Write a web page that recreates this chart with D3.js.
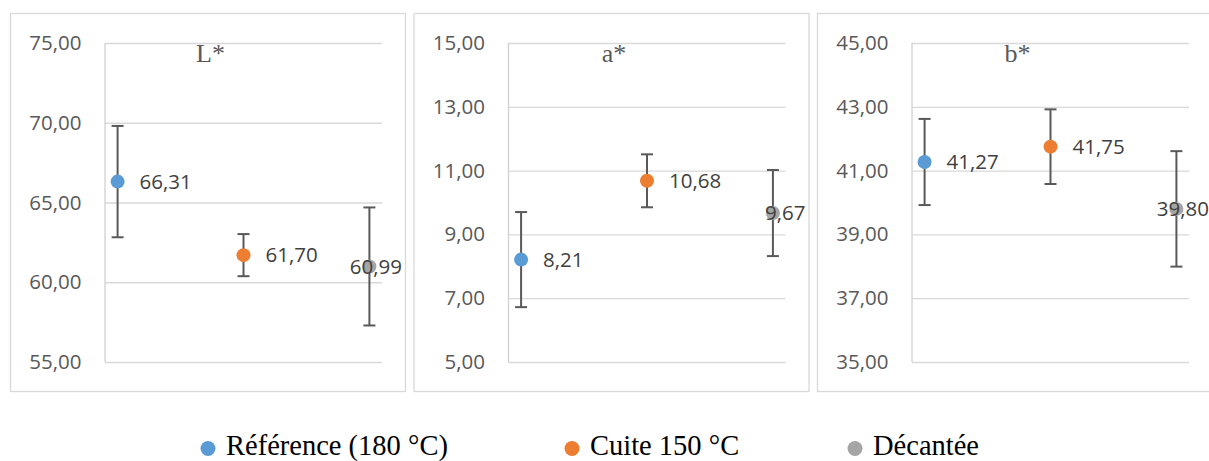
<!DOCTYPE html>
<html>
<head>
<meta charset="utf-8">
<script src="https://cdn.jsdelivr.net/npm/d3@7"></script>
<style>
  html, body { margin: 0; padding: 0; background: #fff; }
  svg { display: block; }
</style>
</head>
<body>
<svg id="chart" width="1209" height="461"></svg>
<script>
// ---- data ----
const categories = ["Référence (180 °C)", "Cuite 150 °C", "Décantée"];
const colors = ["#5B9BD5", "#ED7D31", "#A5A5A5"];

const panelTitles = ["L*", "a*", "b*"];

const L_values = [66.31, 61.70, 60.99];
const L_errors = [3.49, 1.32, 3.70];
const L_ticks = [55, 60, 65, 70, 75];

const a_values = [8.21, 10.68, 9.67];
const a_errors = [1.49, 0.83, 1.35];
const a_ticks = [5, 7, 9, 11, 13, 15];

const b_values = [41.27, 41.75, 39.80];
const b_errors = [1.35, 1.17, 1.81];
const b_ticks = [35, 37, 39, 41, 43, 45];

const panels = [
  { title: panelTitles[0], values: L_values, errors: L_errors, ticks: L_ticks },
  { title: panelTitles[1], values: a_values, errors: a_errors, ticks: a_ticks },
  { title: panelTitles[2], values: b_values, errors: b_errors, ticks: b_ticks }
];

// ---- layout ----
const svg = d3.select("#chart");
const fmt = v => d3.format(".2f")(v).replace(".", ",");
const frameW = 395, frameTop = 13, frameBottom = 391, panelStep = 403.5;
const axisOffset = 95, plotW = 277, plotTop = 43, plotBottom = 362;

panels.forEach((p, i) => {
  const fx = 10 + i * panelStep;
  const ax = fx + axisOffset;
  const g = svg.append("g");

  g.append("rect")
    .attr("x", fx + 0.5).attr("y", frameTop + 0.5)
    .attr("width", frameW).attr("height", frameBottom - frameTop)
    .attr("fill", "#fff").attr("stroke", "#D9D9D9").attr("stroke-width", 1.3);

  const x = d3.scaleLinear().domain([0.9, 3.1]).range([ax, ax + plotW]);
  const y = d3.scaleLinear().domain(d3.extent(p.ticks)).range([plotBottom, plotTop]);

  // gridlines + tick labels via axis
  const yAxis = d3.axisLeft(y).tickValues(p.ticks).tickFormat(fmt)
    .tickSize(-plotW).tickPadding(23.5);
  const ag = g.append("g").attr("transform", `translate(${ax},0)`).call(yAxis);
  ag.select(".domain").remove();
  ag.selectAll(".tick line").attr("stroke", "#D9D9D9").attr("stroke-width", 1.3);
  ag.selectAll(".tick text")
    .attr("fill", "#595959")
    .style("font-family", "'Open Sans', sans-serif")
    .style("font-size", "20.5px");

  // vertical axis line
  g.append("line")
    .attr("x1", ax).attr("x2", ax)
    .attr("y1", plotTop).attr("y2", plotBottom)
    .attr("stroke", "#D0D0D0").attr("stroke-width", 1.3);

  // title
  g.append("text")
    .attr("x", ax + 105.5).attr("y", 61.5)
    .attr("text-anchor", "middle")
    .attr("fill", "#595959")
    .style("font-family", "'Liberation Serif', 'Times New Roman', serif")
    .style("font-size", "26px")
    .text(p.title);

  const data = p.values.map((v, k) => ({ k, v, e: p.errors[k] }));

  // error bars
  const eb = g.selectAll(".eb").data(data).enter().append("g");
  eb.append("line")
    .attr("x1", d => x(d.k + 1)).attr("x2", d => x(d.k + 1))
    .attr("y1", d => y(d.v + d.e)).attr("y2", d => y(d.v - d.e))
    .attr("stroke", "#595959").attr("stroke-width", 2);
  [1, -1].forEach(s => {
    eb.append("line")
      .attr("x1", d => x(d.k + 1) - 6).attr("x2", d => x(d.k + 1) + 6)
      .attr("y1", d => y(d.v + s * d.e)).attr("y2", d => y(d.v + s * d.e))
      .attr("stroke", "#595959").attr("stroke-width", 2);
  });

  // markers
  g.selectAll(".pt").data(data).enter().append("circle")
    .attr("cx", d => x(d.k + 1)).attr("cy", d => y(d.v))
    .attr("r", 7).attr("fill", d => colors[d.k]);

  // labels
  const frameRight = fx + frameW;
  g.selectAll(".lbl").data(data).enter().append("text")
    .attr("y", d => y(d.v))
    .attr("dy", "0.35em")
    .attr("fill", "#404040")
    .style("font-family", "'Open Sans', sans-serif")
    .style("font-size", "20.5px")
    .text(d => fmt(d.v))
    .attr("x", function (d) {
      const w = this.getComputedTextLength();
      return Math.min(x(d.k + 1) + 22, frameRight - 3 - w);
    });
});

// ---- legend ----
const legendX = [208, 572, 855];
const lg = svg.append("g");
categories.forEach((c, k) => {
  lg.append("circle")
    .attr("cx", legendX[k]).attr("cy", 448.5)
    .attr("r", 7.5).attr("fill", colors[k]);
  lg.append("text")
    .attr("x", legendX[k] + 18).attr("y", 454.5)
    .attr("fill", "#000")
    .style("font-family", "'Liberation Serif', 'Times New Roman', serif")
    .style("font-size", "28.5px")
    .text(c);
});
</script>
</body>
</html>
